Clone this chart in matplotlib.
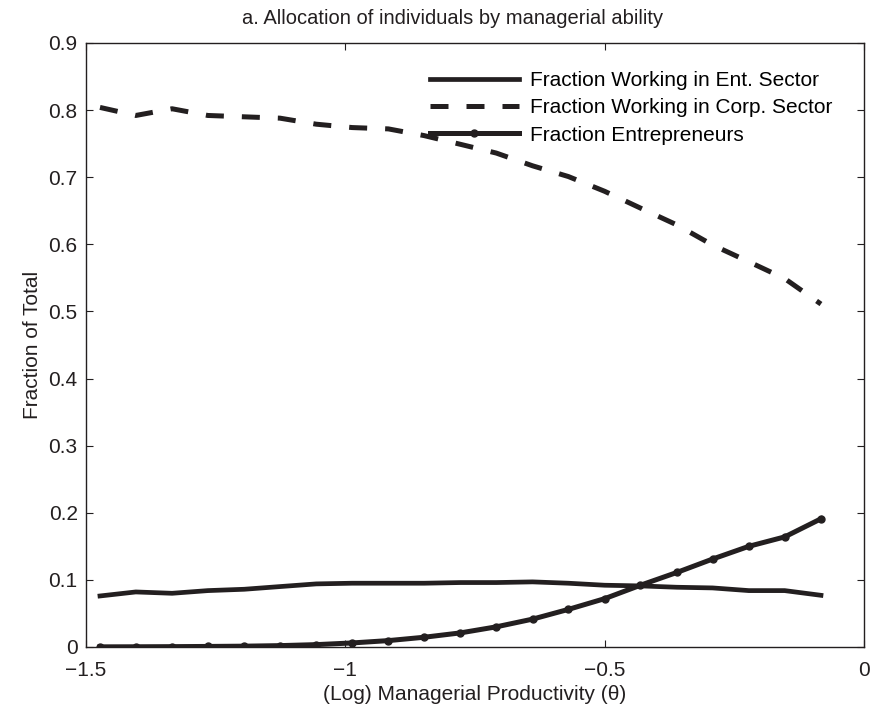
import matplotlib
matplotlib.use("Agg")
import matplotlib.pyplot as plt

plt.rcParams['font.family'] = ['Liberation Sans', 'DejaVu Sans']

# (log) managerial productivity grid
theta = [-1.473, -1.404, -1.334, -1.265, -1.195, -1.126, -1.056, -0.987, -0.917, -0.848,
         -0.778, -0.709, -0.639, -0.570, -0.500, -0.431, -0.361, -0.292, -0.222, -0.153, -0.083]

ent_sector = [0.076, 0.082, 0.080, 0.084, 0.086, 0.090, 0.094, 0.095, 0.095, 0.095,
              0.096, 0.096, 0.097, 0.095, 0.092, 0.091, 0.089, 0.088, 0.084, 0.084, 0.077]

corp_sector = [0.804, 0.792, 0.802, 0.792, 0.790, 0.788, 0.779, 0.774, 0.772, 0.762,
               0.749, 0.736, 0.717, 0.701, 0.679, 0.654, 0.629, 0.599, 0.574, 0.549, 0.511]

entrepreneurs = [0.0002, 0.0003, 0.0005, 0.0008, 0.0012, 0.002, 0.0035, 0.006, 0.0095, 0.0145,
                 0.021, 0.030, 0.0415, 0.056, 0.072, 0.092, 0.111, 0.131, 0.150, 0.164, 0.191]

labels = ["Fraction Working in Ent. Sector",
          "Fraction Working in Corp. Sector",
          "Fraction Entrepreneurs"]

ink = '#231f20'
fs = 15

fig = plt.figure(figsize=(8.73, 7.13), dpi=100)
ax = fig.add_axes([0.0985, 0.0926, 0.8912, 0.8471])

ax.plot(theta, ent_sector, '-', color=ink, lw=3.4, label=labels[0])
ax.plot(theta, corp_sector, '--', color=ink, lw=3.6, dashes=[3.6, 3.6], label=labels[1])
ax.plot(theta, entrepreneurs, '-', color=ink, lw=3.6, marker='o', ms=5, label=labels[2])

ax.set_xlim(-1.5, 0)
ax.set_ylim(0, 0.9)
ax.set_xticks([-1.5, -1, -0.5, 0])
ax.set_xticklabels(['\u22121.5', '\u22121', '\u22120.5', '0'])
ax.set_yticks([0, 0.1, 0.2, 0.3, 0.4, 0.5, 0.6, 0.7, 0.8, 0.9])
ax.set_yticklabels(['0', '0.1', '0.2', '0.3', '0.4', '0.5', '0.6', '0.7', '0.8', '0.9'])
ax.tick_params(direction='in', length=5, width=0.8, top=True, right=True,
               labelsize=fs, colors=ink)
ax.tick_params(axis='x', pad=10)
ax.tick_params(axis='y', pad=6)
for s in ax.spines.values():
    s.set_linewidth(1.0)
    s.set_color(ink)

ax.set_xlabel('(Log) Managerial Productivity (\u03b8)', fontsize=fs, color=ink, labelpad=4)
ax.set_ylabel('Fraction of Total', fontsize=fs, color=ink, labelpad=4.5)
fig.text(0.518, 0.974, 'a. Allocation of individuals by managerial ability',
         fontsize=14.5, color=ink, ha='center', va='center')

ax.legend(loc='upper left', bbox_to_anchor=(0.431, 0.967), frameon=False, fontsize=fs,
          handlelength=4.3, handletextpad=0.5, labelspacing=0.39, borderaxespad=0)

fig.savefig('out.png', dpi=100)
